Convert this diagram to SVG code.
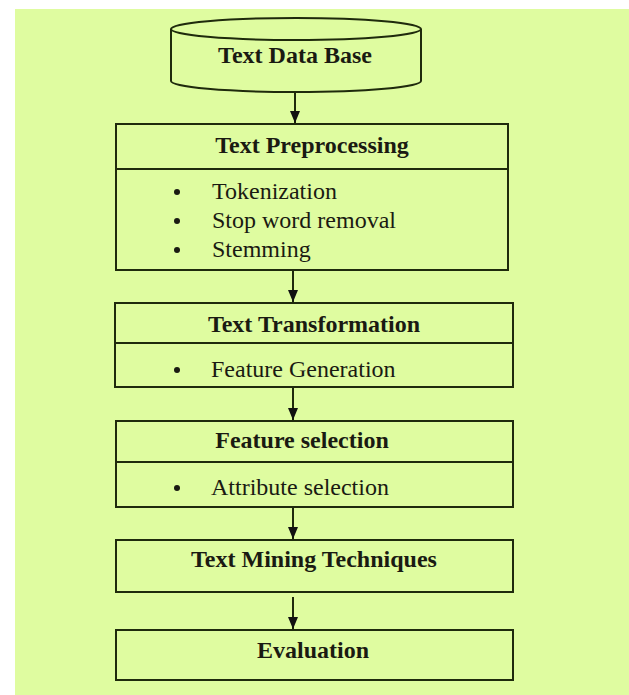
<svg xmlns="http://www.w3.org/2000/svg" width="629" height="695" viewBox="0 0 629 695">
<style>
.box{fill:none;stroke:#1f2a0c;stroke-width:2}
.ln{stroke:#1f2a0c;stroke-width:2;fill:none}
.t{font-family:"Liberation Serif","Times New Roman",serif;font-size:24px;fill:#1a1a12}
.b{font-weight:bold;text-anchor:middle}
.dot{fill:#1a1a12}
</style>
<defs>
<marker id="ah" viewBox="0 0 12 10" refX="12" refY="5" markerWidth="12" markerHeight="10" markerUnits="userSpaceOnUse" orient="auto">
<path d="M0,0 L12,5 L0,10 Z" fill="#111"/>
</marker>
</defs>
<rect x="15" y="9" width="614" height="686" fill="#dffca0"/>
<g id="connectors">
<line class="ln" x1="295" y1="91" x2="295" y2="123" marker-end="url(#ah)"/>
<line class="ln" x1="293" y1="270" x2="293" y2="302" marker-end="url(#ah)"/>
<line class="ln" x1="293" y1="387" x2="293" y2="420" marker-end="url(#ah)"/>
<line class="ln" x1="293" y1="507" x2="293" y2="539" marker-end="url(#ah)"/>
<line class="ln" x1="293" y1="597" x2="293" y2="629" marker-end="url(#ah)"/>
</g>
<g id="db">
<path class="box" d="M171,29 L171,81 A125,11 0 0 0 421,81 L421,29"/>
<ellipse class="box" cx="296" cy="29" rx="125" ry="11"/>
<text class="t b" x="295" y="63">Text Data Base</text>
</g>
<g id="preprocessing">
<rect class="box" x="116" y="124" width="392" height="146"/>
<line class="ln" x1="116" y1="169" x2="508" y2="169"/>
<text class="t b" x="312" y="153">Text Preprocessing</text>
<circle class="dot" cx="177" cy="192" r="3"/>
<circle class="dot" cx="177" cy="221" r="3"/>
<circle class="dot" cx="177" cy="250" r="3"/>
<text class="t" x="212" y="199">Tokenization</text>
<text class="t" x="212" y="228">Stop word removal</text>
<text class="t" x="212" y="257">Stemming</text>
</g>
<g id="transformation">
<rect class="box" x="115" y="303" width="398" height="84"/>
<line class="ln" x1="115" y1="343" x2="513" y2="343"/>
<text class="t b" x="314" y="332">Text Transformation</text>
<circle class="dot" cx="177" cy="370" r="3"/>
<text class="t" x="211" y="377">Feature Generation</text>
</g>
<g id="selection">
<rect class="box" x="116" y="421" width="397" height="86"/>
<line class="ln" x1="116" y1="462" x2="513" y2="462"/>
<text class="t b" x="302" y="448">Feature selection</text>
<circle class="dot" cx="177" cy="488" r="3"/>
<text class="t" x="211" y="495">Attribute selection</text>
</g>
<g id="mining">
<rect class="box" x="116" y="540" width="397" height="52"/>
<text class="t b" x="314" y="567">Text Mining Techniques</text>
</g>
<g id="evaluation">
<rect class="box" x="116" y="630" width="397" height="50"/>
<text class="t b" x="313" y="658">Evaluation</text>
</g>
</svg>
